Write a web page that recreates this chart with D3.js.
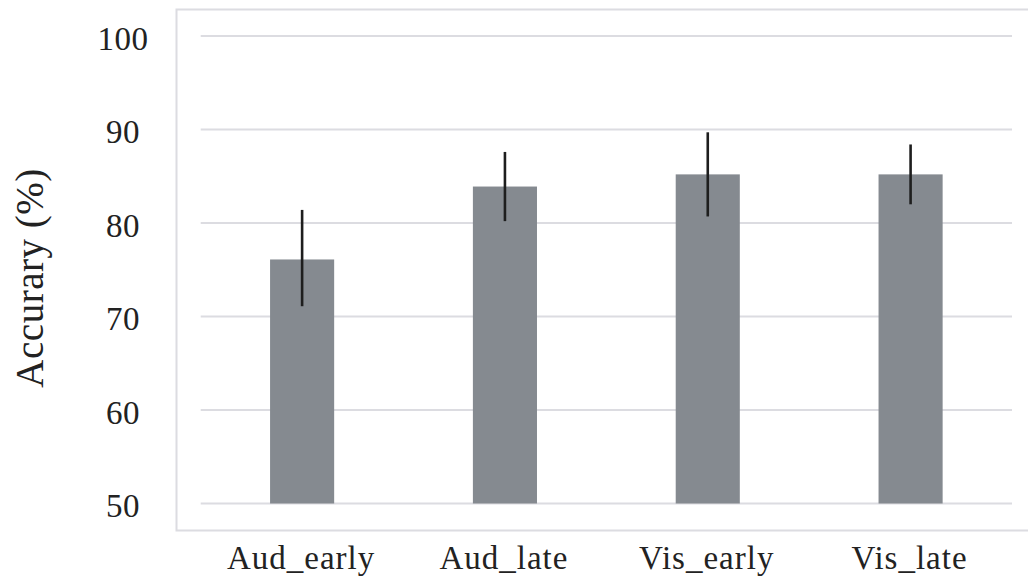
<!DOCTYPE html>
<html><head><meta charset="utf-8">
<script src="https://cdn.jsdelivr.net/npm/d3@7"></script>
<style>html,body{margin:0;padding:0;background:#fff}svg{display:block}</style>
</head><body>
<svg id="c" width="1028" height="583"></svg>
<script>
const categories = ["Aud_early","Aud_late","Vis_early","Vis_late"];
const means = [76.1, 83.9, 85.2, 85.2];
const upper = [81.4, 87.6, 89.7, 88.4];
const lower = [71.1, 80.2, 80.7, 82.0];
const yTicks = [50,60,70,80,90,100];

(function(){
const svg = d3.select("#c");
const font = "'Liberation Serif', 'DejaVu Serif', serif";
const pLeft = 200.7, pRight = 1012, pTop = 36, pBottom = 503.5;

const x = d3.scaleBand().domain(categories).range([pLeft, pRight]).paddingInner(0.684).paddingOuter(0.342);
const y = d3.scaleLinear().domain([50,100]).range([pBottom, pTop]);

svg.append("path")
  .attr("d", `M1030,9.5 H176.5 V530.5 H1030`)
  .attr("fill","none").attr("stroke","#dcdce1").attr("stroke-width",2);

svg.append("g").selectAll("line").data(yTicks).join("line")
  .attr("x1", pLeft).attr("x2", pRight)
  .attr("y1", d=>y(d)).attr("y2", d=>y(d))
  .attr("stroke","#dcdce1").attr("stroke-width",2);

const yAxis = d3.axisLeft(y).tickValues(yTicks).tickSize(0).tickPadding(0);
const ga = svg.append("g").attr("transform","translate(123,0)").call(yAxis);
ga.select(".domain").remove();
ga.selectAll("text").attr("font-family",font).attr("font-size",33).attr("fill","#222")
  .attr("text-anchor","middle").attr("letter-spacing","0.5px").attr("dy","0.4em");

svg.append("g").selectAll("rect").data(categories).join("rect")
  .attr("x", d=>x(d)).attr("width", x.bandwidth())
  .attr("y", (d,i)=>y(means[i])).attr("height", (d,i)=>y(50)-y(means[i]))
  .attr("fill","#858a90");

svg.append("g").selectAll("line").data(categories).join("line")
  .attr("x1", d=>x(d)+x.bandwidth()/2).attr("x2", d=>x(d)+x.bandwidth()/2)
  .attr("y1", (d,i)=>y(upper[i])).attr("y2", (d,i)=>y(lower[i]))
  .attr("stroke","#1e1e1e").attr("stroke-width",2.6);

const xAxis = d3.axisBottom(x).tickSize(0).tickPadding(0);
const gx = svg.append("g").attr("transform","translate(-1,569)").call(xAxis);
gx.select(".domain").remove();
gx.selectAll("text").attr("font-family",font).attr("font-size",33).attr("fill","#222")
  .attr("letter-spacing","1px").attr("dy","0");

svg.append("text")
  .attr("transform","translate(43,278) rotate(-90)")
  .attr("text-anchor","middle")
  .attr("font-family",font).attr("font-size",39).attr("fill","#222")
  .attr("letter-spacing","0.5px")
  .text("Accurary (%)");
})();
</script>
</body></html>
